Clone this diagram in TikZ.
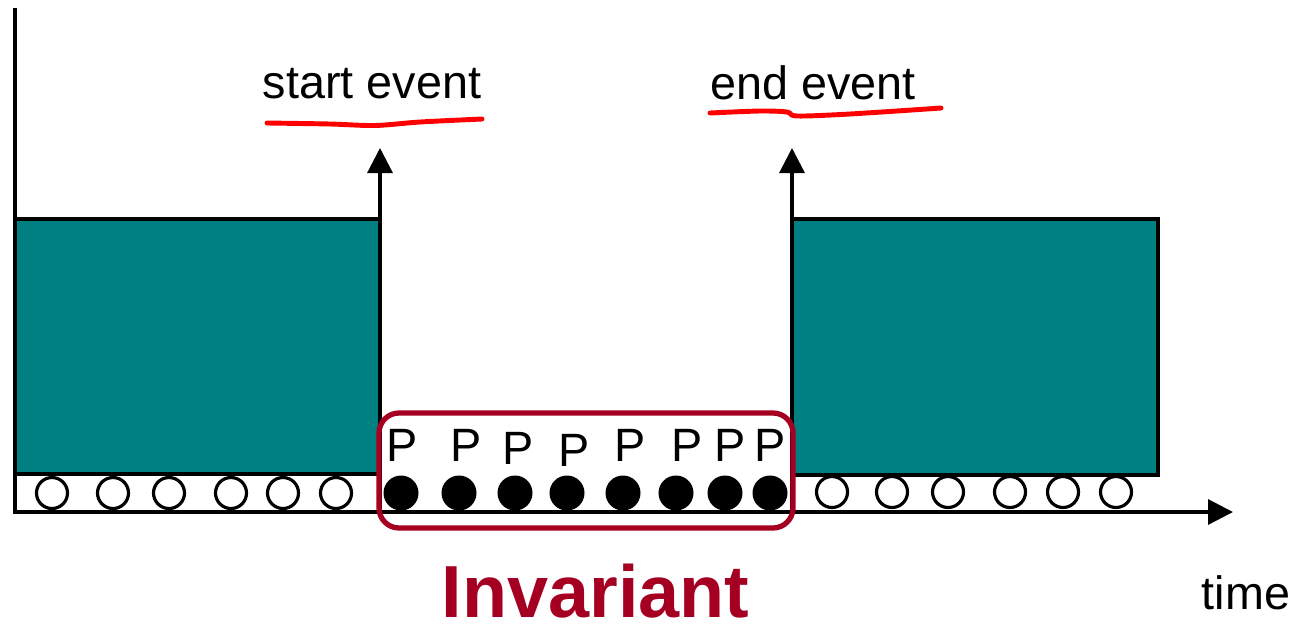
\documentclass[tikz,border=0pt]{standalone}
\usepackage{fontspec}
\setmainfont{Liberation Sans}
\usetikzlibrary{arrows.meta}
\definecolor{boxteal}{RGB}{0,128,128}
\definecolor{invred}{RGB}{165,0,33}

\begin{document}
\begin{tikzpicture}[line width=0.9pt,
  tip/.style={-{Triangle[width=0.25cm,length=0.25cm]}},
  hollow/.style={circle, draw, fill=white, minimum size=0.31cm, inner sep=0pt},
  full/.style={circle, fill=black, minimum size=0.35cm, inner sep=0pt},
  txt/.style={font=\fontsize{13.3}{16}\selectfont, inner sep=0pt, anchor=base},
  redline/.style={red, line width=1.4pt, line cap=round}]
\useasboundingbox (0,0) rectangle (12.97,6.34);
\draw[fill=boxteal] (0.15,1.60) rectangle (3.80,4.15);
\draw[fill=boxteal] (7.92,1.59) rectangle (11.58,4.15);
\coordinate (top) at (0.15,6.26);
\coordinate (o) at (0.15,1.22);
\coordinate (tend) at (12.33,1.22);
\coordinate (s0) at (3.80,1.22);
\coordinate (s1) at (3.80,4.86);
\coordinate (e0) at (7.92,1.22);
\coordinate (e1) at (7.92,4.86);
\draw[tip] (top) -- (o) -- (tend);
\draw[tip] (s0) -- (s1);
\draw[tip] (e0) -- (e1);
\foreach \x [count=\i] in {0.52,1.13,1.69,2.31,2.83,3.36}
  \node[hollow] (a\i) at (\x,1.41) {};
\foreach \x [count=\i] in {4.01,4.59,5.15,5.67,6.23,6.76,7.25,7.70}
  \node[full] (b\i) at (\x,1.41) {};
\foreach \x [count=\i] in {8.32,8.92,9.48,10.10,10.63,11.16}
  \node[hollow] (c\i) at (\x,1.42) {};
\draw[invred, line width=1.5pt, rounded corners=0.2cm] (3.79,1.06) rectangle (7.93,2.21);
\foreach \x/\y [count=\i] in {4.02/1.73,4.66/1.73,5.18/1.70,5.74/1.68,6.30/1.73,6.87/1.73,7.30/1.73,7.70/1.73}
  \node[txt] (p\i) at (\x,\y) {P};
\node[txt] (start) at (3.72,5.36) {start event};
\node[txt] (stop) at (8.13,5.35) {end event};
\node[txt] (time) at (12.46,0.25) {time};
\node[txt, font=\fontsize{21}{25}\selectfont\bfseries, text=invred] (inv) at (5.955,0.17) {Invariant};
\draw[redline] plot[smooth] coordinates {(2.67,5.11) (3.30,5.10) (3.75,5.085) (4.20,5.12) (4.82,5.15)};
\draw[redline] plot[smooth] coordinates {(7.10,5.21) (7.60,5.23) (7.87,5.22) (7.97,5.18) (8.50,5.20) (9.41,5.26)};
\end{tikzpicture}
\end{document}
